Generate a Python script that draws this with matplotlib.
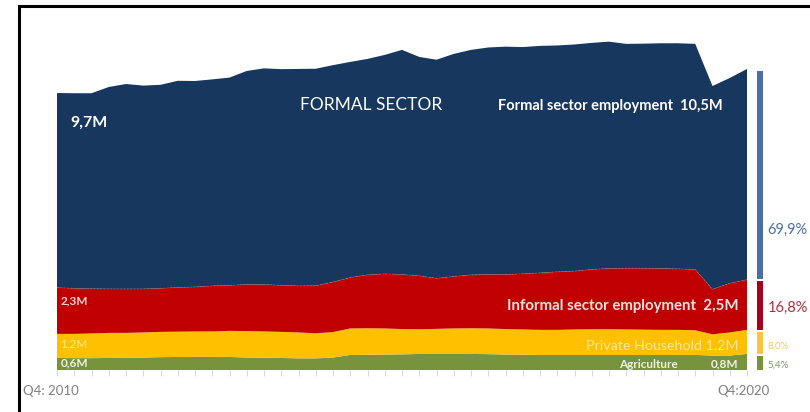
import matplotlib
matplotlib.use("Agg")
import matplotlib.pyplot as plt
from matplotlib.patches import Rectangle
import numpy as np

plt.rcParams['font.family'] = ['Lato', 'DejaVu Sans']

# Quarterly employment (millions), Q4 2010 .. Q4 2020
quarters = np.arange(41)
agriculture = [0.60, 0.59, 0.59, 0.60, 0.61, 0.62, 0.64, 0.65, 0.66, 0.66,
               0.65, 0.62, 0.61, 0.60, 0.58, 0.58, 0.62, 0.75, 0.76, 0.77,
               0.78, 0.80, 0.80, 0.80, 0.80, 0.79, 0.77, 0.76, 0.75, 0.75,
               0.75, 0.75, 0.75, 0.75, 0.75, 0.75, 0.75, 0.75, 0.72, 0.72, 0.80]
household = [1.20, 1.21, 1.23, 1.25, 1.24, 1.25, 1.26, 1.26, 1.26, 1.26,
             1.30, 1.32, 1.31, 1.30, 1.29, 1.25, 1.27, 1.32, 1.32, 1.30,
             1.26, 1.23, 1.25, 1.27, 1.28, 1.28, 1.27, 1.26, 1.25, 1.25,
             1.27, 1.28, 1.28, 1.27, 1.26, 1.25, 1.25, 1.23, 1.06, 1.15, 1.20]
informal = [2.30, 2.27, 2.23, 2.19, 2.19, 2.17, 2.17, 2.20, 2.22, 2.27,
            2.27, 2.32, 2.34, 2.32, 2.32, 2.37, 2.49, 2.54, 2.66, 2.72,
            2.72, 2.66, 2.52, 2.59, 2.66, 2.69, 2.72, 2.77, 2.84, 2.89,
            2.91, 2.98, 3.03, 3.05, 3.06, 3.06, 3.04, 3.03, 2.24, 2.45, 2.50]
formal = [9.70, 9.72, 9.74, 10.06, 10.21, 10.13, 10.14, 10.30, 10.26, 10.29,
          10.35, 10.64, 10.77, 10.77, 10.81, 10.81, 10.81, 10.74, 10.76, 10.91,
          11.19, 10.91, 10.89, 11.09, 11.21, 11.31, 11.35, 11.30, 11.31, 11.28,
          11.29, 11.29, 11.30, 11.18, 11.19, 11.22, 11.24, 11.24, 10.13, 10.23, 10.50]

# Shares in Q4 2020 (%)
share_labels = ["5,4%", "8,0%", "16,8%", "69,9%"]
shares = [5.4, 8.0, 16.8, 69.9]

start_label = "Q4: 2010"
end_label = "Q4:2020"

NAVY = "#17375e"
RED = "#c00000"
YELLOW = "#ffc000"
GREEN = "#77933c"

W, H = 810, 412
fig = plt.figure(figsize=(W / 100, H / 100), dpi=100)
fig.patch.set_facecolor("white")

# plot area: x from px 57 to 747, zero line at px 370
px_per_m = 20.07
ax_left, ax_right, ax_base, ax_top = 57, 747, 370, 20
ax = fig.add_axes([ax_left / W, (H - ax_base) / H,
                   (ax_right - ax_left) / W, (ax_base - ax_top) / H])
ax.set_xlim(0, 40)
ax.set_ylim(0, (ax_base - ax_top) / px_per_m)
ax.set_facecolor("none")
for s in ax.spines.values():
    s.set_visible(False)

ax.stackplot(quarters, agriculture, household, informal, formal,
             colors=[GREEN, YELLOW, RED, NAVY], linewidth=0)

# faint dotted edge on top of the informal band
agri = np.array(agriculture)
hh = np.array(household)
inf = np.array(informal)
ax.plot(quarters, agri + hh + inf, color="#e06060", lw=0.6,
        ls=(0, (2, 2)), alpha=0.6)

ax.set_xticks(quarters)
ax.set_xticklabels([])
ax.set_yticks([])
ax.tick_params(axis="x", direction="out", length=4, width=0.6,
               color="#d0d0d0")

# share bar for the last quarter
total_end = agriculture[-1] + household[-1] + informal[-1] + formal[-1]
bar_colors = [GREEN, "#fcc33c", "#a8001c", "#4a6ea5"]
text_colors = ["#7a9a5a", "#f2c85a", "#b0303c", "#4a6ea5"]
text_sizes = [7, 7, 10.5, 10.5]
bx0, bw = 40.58, 0.35
gap = 0.12
bottom = 0.0
for sh, col in zip(shares, bar_colors):
    h = total_end * sh / 100.0
    ax.add_patch(Rectangle((bx0, bottom), bw, h - gap, facecolor=col,
                           edgecolor="none", clip_on=False))
    bottom += h
label_y = [0.25, 1.2, 3.1, 7.0]
for y, lab, tc, ts in zip(label_y, share_labels, text_colors, text_sizes):
    ax.text(41.2, y, lab, color=tc, fontsize=ts, va="center", ha="left",
            clip_on=False)

# in-chart labels
ax.text(0.75, (370 - 123) / px_per_m, "9,7M", color="white", fontsize=11.5,
        fontweight="bold", va="center", ha="left")
ax.text(14.1, (370 - 105) / px_per_m, "FORMAL SECTOR", color="white",
        fontsize=12.5, va="center", ha="left")
ax.text(38.6, (370 - 106) / px_per_m, "Formal sector employment  10,5M",
        color="white", fontsize=10.5, fontweight="bold", va="center",
        ha="right")
ax.text(0.2, (370 - 301) / px_per_m, "2,3M", color="#f6d6d6", fontsize=8.5,
        fontweight="bold", va="center", ha="left")
ax.text(39.5, (370 - 306) / px_per_m, "Informal sector employment  2,5M",
        color="#f8e2e2", fontsize=10.8, fontweight="bold", va="center",
        ha="right")
ax.text(0.2, (370 - 344) / px_per_m, "1,2M", color="#ffe7a0", fontsize=8.5,
        va="center", ha="left")
ax.text(39.5, (370 - 345) / px_per_m, "Private Household 1,2M",
        color="#ffe7a0", fontsize=10.3, va="center", ha="right")
ax.text(0.2, (370 - 363) / px_per_m, "0,6M", color="#eef2e4", fontsize=8.5,
        fontweight="bold", va="center", ha="left")
ax.text(36.0, (370 - 364) / px_per_m, "Agriculture", color="#eef2e4",
        fontsize=8.5, fontweight="bold", va="center", ha="right")
ax.text(39.5, (370 - 364) / px_per_m, "0,8M", color="#eef2e4",
        fontsize=8.5, fontweight="bold", va="center", ha="right")

# period labels
ax.text(-2.0, -21 / px_per_m, start_label, color="#7f7f7f", fontsize=9.5,
        va="center", ha="left", clip_on=False)
ax.text(41.3, -21 / px_per_m, end_label, color="#7f7f7f", fontsize=9.5,
        va="center", ha="right", clip_on=False)

# outer frame
fig.add_artist(Rectangle((19 / W, -0.05), 1.0, (H - 6) / H + 0.05,
                         transform=fig.transFigure, fill=False,
                         edgecolor="black", linewidth=2.2))

fig.savefig("out.png", dpi=100)
